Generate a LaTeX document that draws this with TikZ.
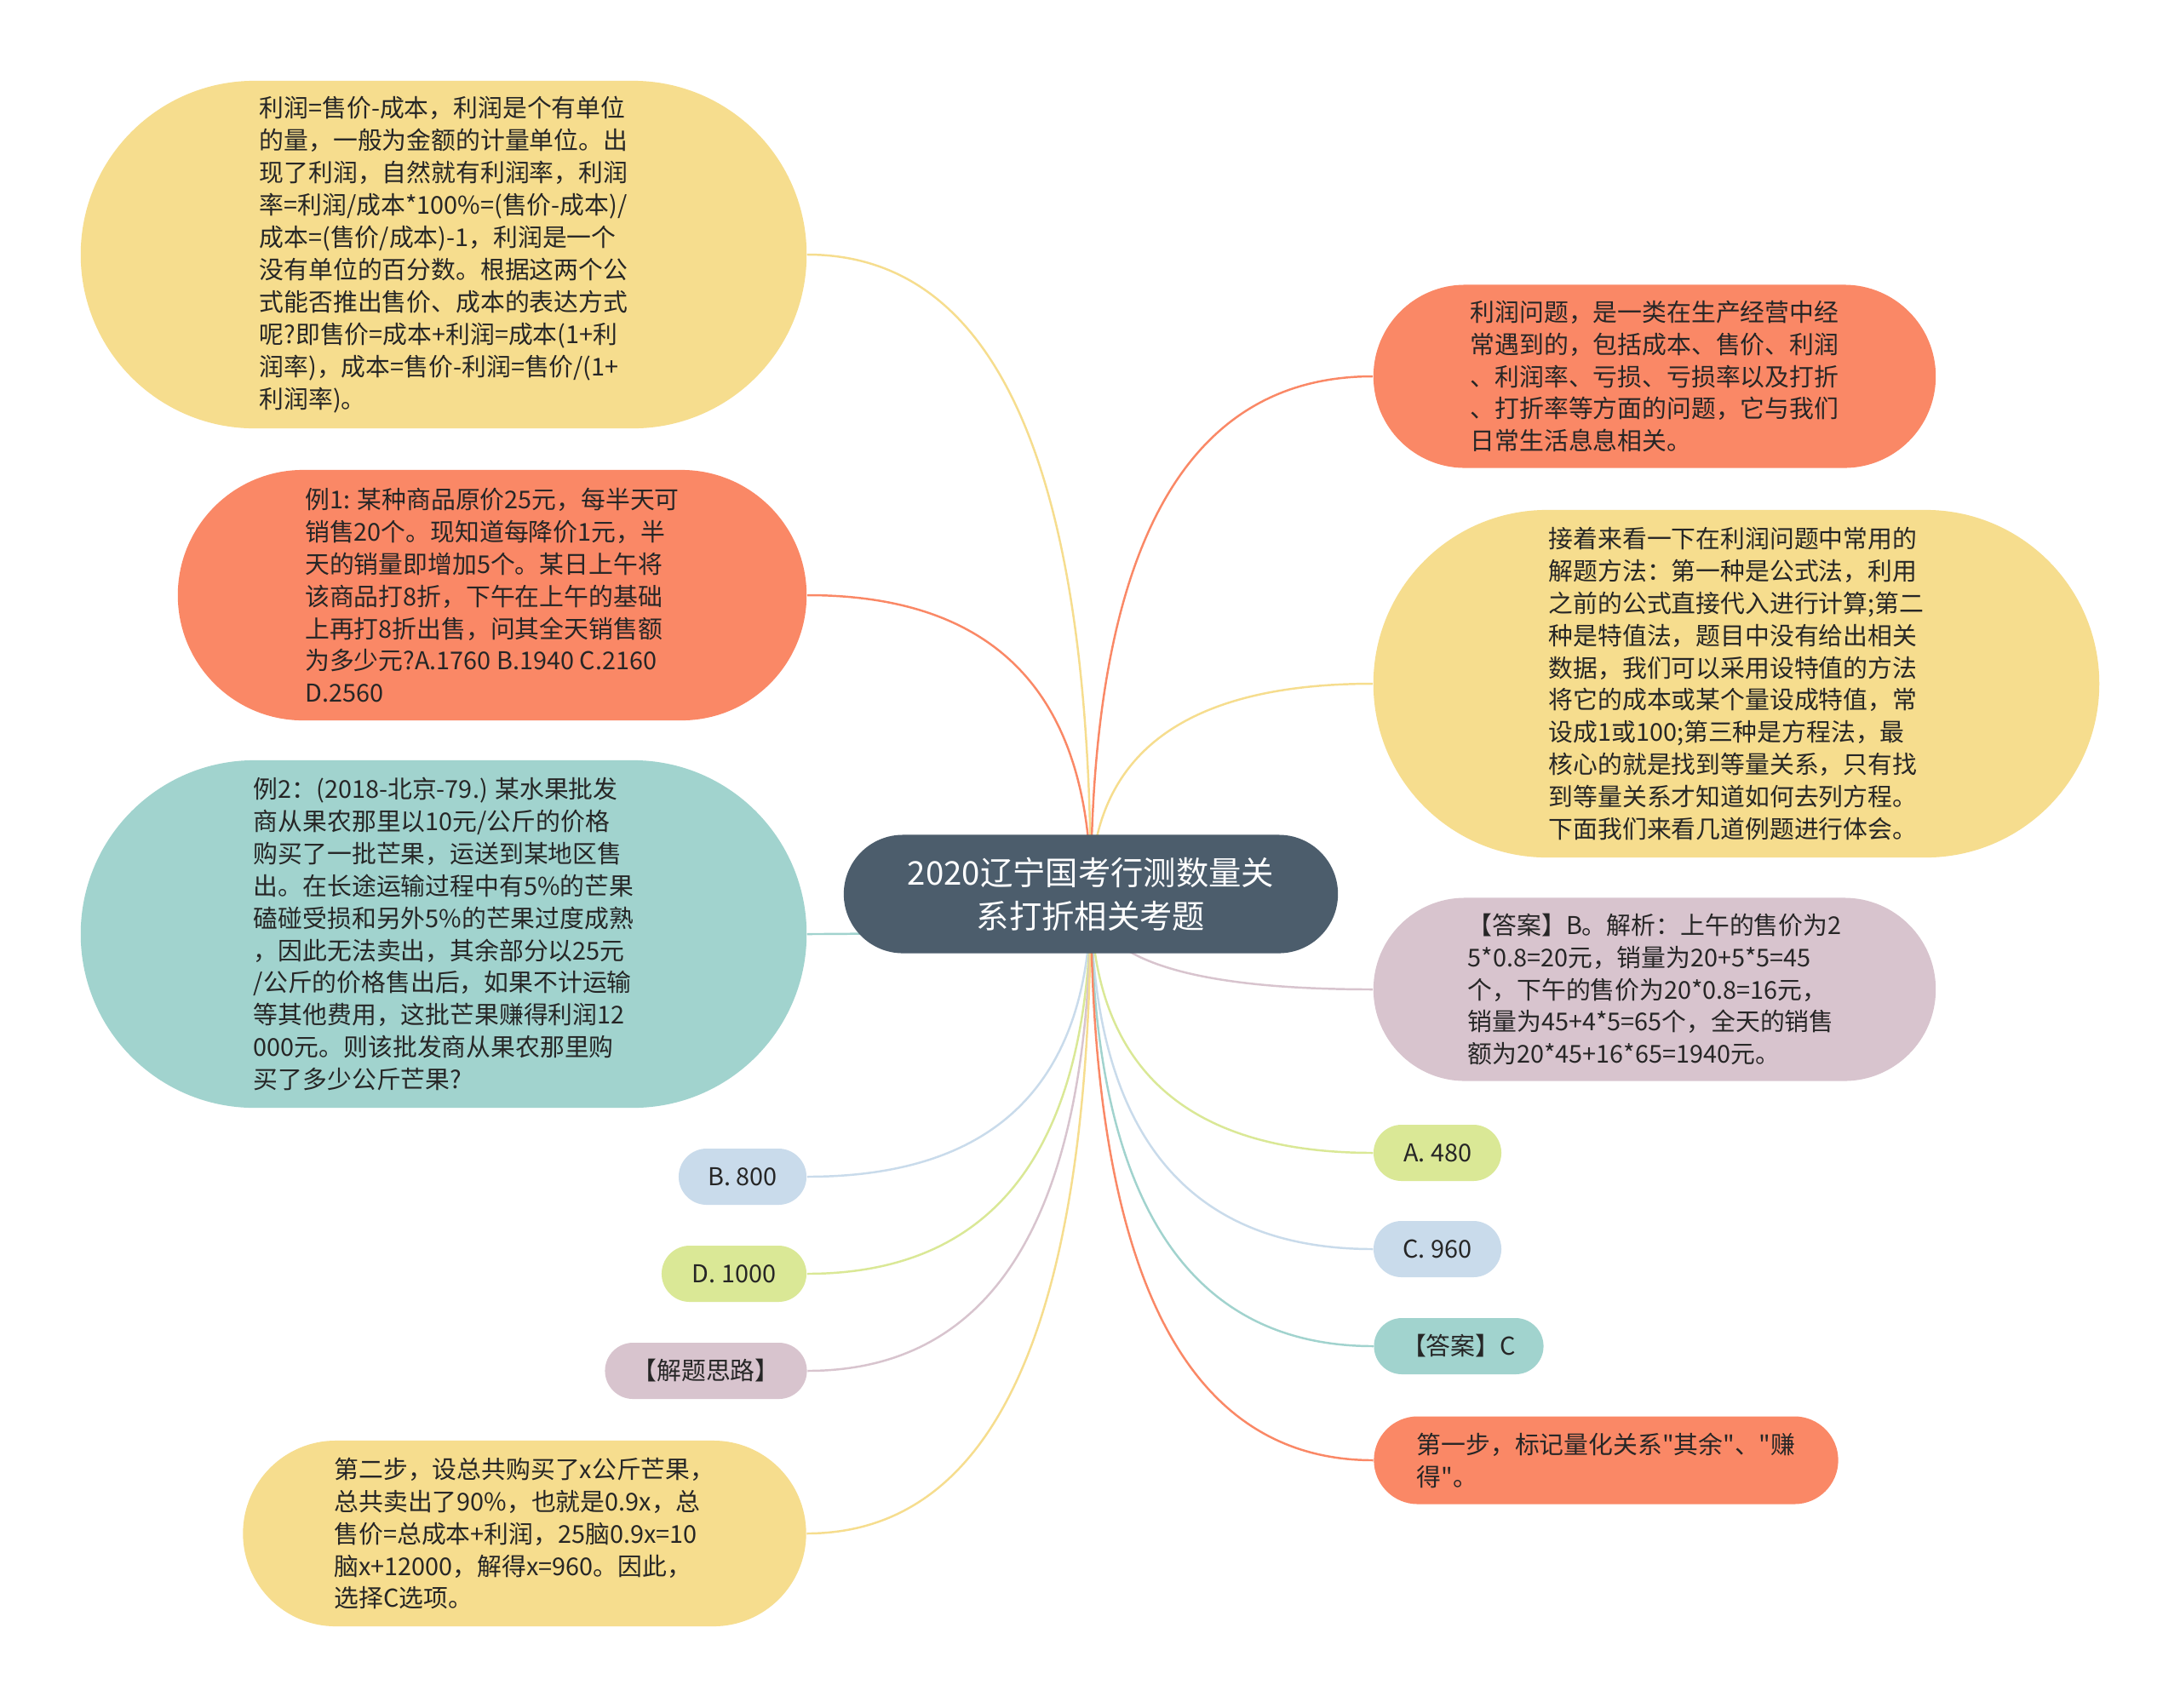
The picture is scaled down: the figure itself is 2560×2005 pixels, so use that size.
\documentclass[tikz,border=0pt]{standalone}
\usepackage{fontspec}
\setmainfont{Noto Sans CJK SC}[Ligatures=TeXOff]
\usetikzlibrary{shapes.misc,backgrounds,calc}

\definecolor{ylw}{RGB}{246,221,142}
\definecolor{org}{RGB}{250,136,102}
\definecolor{teal}{RGB}{161,211,206}
\definecolor{blu}{RGB}{201,219,235}
\definecolor{grn}{RGB}{218,232,150}
\definecolor{mauve}{RGB}{216,196,206}
\definecolor{rootc}{RGB}{76,93,108}

\begin{document}
\begin{tikzpicture}[
        x=0.01cm, y=-0.01cm,
        topic/.style={shape=rounded rectangle, inner sep=0pt, align=left,
          text=black!85, font=\fontsize{8.2}{10.8}\selectfont},
        pill/.style={topic, minimum height=0.66cm},
        rootbox/.style={topic, fill=rootc, text=white, align=center,
          font=\fontsize{10.9}{14.4}\selectfont},
        link/.style={line width=0.7pt}
      ]
      \useasboundingbox (0,0) rectangle (2560,2005);
      % centre
      \node[rootbox, minimum width=5.8cm, minimum height=1.39cm] (root) at (1281,1050)
        {2020辽宁国考行测数量关\\系打折相关考题};
      % left side
      \node[topic, fill=ylw, minimum width=8.52cm, minimum height=4.08cm] (profit) at (521,299)
        {利润=售价-成本，利润是个有单位\\的量，一般为金额的计量单位。出\\现了利润，自然就有利润率，利润\\率=利润/成本*100\%=(售价-成本)/\\成本=(售价/成本)-1，利润是一个\\没有单位的百分数。根据这两个公\\式能否推出售价、成本的表达方式\\呢?即售价=成本+利润=成本(1+利\\润率)，成本=售价-利润=售价/(1+\\利润率)。};
      \node[topic, fill=org, minimum width=7.38cm, minimum height=2.94cm] (ex1) at (578,699)
        {例1: 某种商品原价25元，每半天可\\销售20个。现知道每降价1元，半\\天的销量即增加5个。某日上午将\\该商品打8折，下午在上午的基础\\上再打8折出售，问其全天销售额\\为多少元?A.1760 B.1940 C.2160\\D.2560};
      \node[topic, fill=teal, minimum width=8.52cm, minimum height=4.08cm] (ex2) at (521,1097)
        {例2：(2018-北京-79.) 某水果批发\\商从果农那里以10元/公斤的价格\\购买了一批芒果，运送到某地区售\\出。在长途运输过程中有5\%的芒果\\磕碰受损和另外5\%的芒果过度成熟\\，因此无法卖出，其余部分以25元\\/公斤的价格售出后，如果不计运输\\等其他费用，这批芒果赚得利润12\\000元。则该批发商从果农那里购\\买了多少公斤芒果?};
      \node[pill, fill=blu, minimum width=1.5cm] (optB) at (872,1382) {B. 800};
      \node[pill, fill=grn, minimum width=1.7cm] (optD) at (862,1496) {D. 1000};
      \node[pill, fill=mauve, minimum width=2.37cm] (idea) at (829,1610) {【解题思路】};
      \node[topic, fill=ylw, minimum width=6.61cm, minimum height=2.18cm] (step2) at (616,1801)
        {第二步，设总共购买了x公斤芒果，\\总共卖出了90\%，也就是0.9x，总\\售价=总成本+利润，25脑0.9x=10\\脑x+12000，解得x=960。因此，\\选择C选项。};
      % right side
      \node[topic, fill=org, minimum width=6.6cm, minimum height=2.15cm] (intro) at (1943,442)
        {利润问题，是一类在生产经营中经\\常遇到的，包括成本、售价、利润\\、利润率、亏损、亏损率以及打折\\、打折率等方面的问题，它与我们\\日常生活息息相关。};
      \node[topic, fill=ylw, minimum width=8.52cm, minimum height=4.08cm] (method) at (2039,803)
        {接着来看一下在利润问题中常用的\\解题方法：第一种是公式法，利用\\之前的公式直接代入进行计算;第二\\种是特值法，题目中没有给出相关\\数据，我们可以采用设特值的方法\\将它的成本或某个量设成特值，常\\设成1或100;第三种是方程法，最\\核心的就是找到等量关系，只有找\\到等量关系才知道如何去列方程。\\下面我们来看几道例题进行体会。};
      \node[topic, fill=mauve, minimum width=6.6cm, minimum height=2.15cm] (ansB) at (1943,1162)
        {【答案】B。解析：上午的售价为2\\5*0.8=20元，销量为20+5*5=45\\个，下午的售价为20*0.8=16元，\\销量为45+4*5=65个，全天的销售\\额为20*45+16*65=1940元。};
      \node[pill, fill=grn, minimum width=1.5cm] (optA) at (1688,1354) {A. 480};
      \node[pill, fill=blu, minimum width=1.5cm] (optC) at (1688,1467) {C. 960};
      \node[pill, fill=teal, minimum width=1.99cm] (ansC) at (1713,1581) {【答案】C};
      \node[topic, fill=org, minimum width=5.45cm, minimum height=1.03cm] (step1) at (1886,1715)
        {第一步，标记量化关系"其余"、"赚\\得"。};
      % links
      \begin{scope}[on background layer]
        \fill[white] (0,0) rectangle (2560,2005);
        \foreach \n/\c in {profit/ylw, ex1/org, ex2/teal, optB/blu, optD/grn, idea/mauve, step2/ylw}
          \draw[link, \c] (root.center) .. controls ($(root.center)!0.667!(root.center |- \n.east)$)
            and ($(\n.east)!0.667!(root.center |- \n.east)$) .. (\n.east);
        \foreach \n/\c in {intro/org, method/ylw, ansB/mauve, optA/grn, optC/blu, ansC/teal, step1/org}
          \draw[link, \c] (root.center) .. controls ($(root.center)!0.667!(root.center |- \n.west)$)
            and ($(\n.west)!0.667!(root.center |- \n.west)$) .. (\n.west);
      \end{scope}
    \end{tikzpicture}
\end{document}
